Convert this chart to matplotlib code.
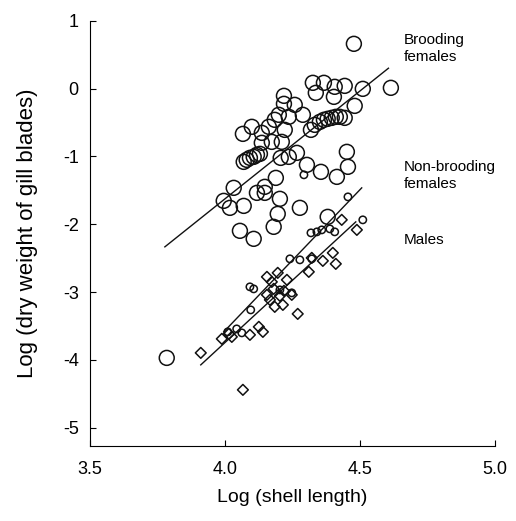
import matplotlib
matplotlib.use("Agg")
import matplotlib.pyplot as plt
import numpy as np

plt.rcParams['font.family'] = ['Liberation Sans', 'DejaVu Sans']
plt.rcParams['axes.unicode_minus'] = False

# brooding females (large circles)
brood_x = [4.478, 4.615, 4.326, 4.367, 4.337, 4.407, 4.444, 4.404, 4.511, 4.481,
           4.219, 4.219, 4.259, 4.289, 4.200, 4.237, 4.185, 4.222, 4.100, 4.067,
           4.137, 4.163, 4.174, 4.211, 4.137, 4.070, 4.081, 4.093, 4.107, 4.119,
           4.130, 4.319, 4.333, 4.352, 4.367, 4.381, 4.396, 4.411, 4.426, 4.444,
           4.452, 4.456, 4.415, 4.356, 4.304, 4.207, 4.237, 4.267, 4.033, 3.996,
           4.019, 4.070, 4.119, 4.148, 4.148, 4.189, 4.204, 4.196, 4.181, 4.278,
           4.056, 4.107, 4.381, 3.785]
brood_y = [0.661, 0.012, 0.086, 0.086, -0.062, 0.027, 0.041, -0.121, -0.003, -0.254,
           -0.106, -0.224, -0.239, -0.386, -0.386, -0.416, -0.460, -0.608, -0.563, -0.667,
           -0.652, -0.563, -0.785, -0.785, -0.799, -1.080, -1.050, -1.021, -1.006, -0.976,
           -0.962, -0.608, -0.534, -0.490, -0.460, -0.445, -0.431, -0.416, -0.416, -0.431,
           -0.932, -1.153, -1.301, -1.227, -1.124, -1.021, -1.006, -0.947, -1.463, -1.655,
           -1.758, -1.729, -1.537, -1.448, -1.537, -1.316, -1.625, -1.847, -2.038, -1.758,
           -2.097, -2.215, -1.891, -3.971]

# non-brooding females (small circles)
nonbrood_x = [4.456, 4.511, 4.293, 4.319, 4.341, 4.359, 4.389, 4.407, 4.241, 4.278,
              4.322, 4.093, 4.107, 4.096, 4.063, 4.044, 4.011, 4.248, 4.204]
nonbrood_y = [-1.596, -1.935, -1.271, -2.127, -2.112, -2.083, -2.068, -2.112, -2.510, -2.525,
              -2.510, -2.923, -2.953, -3.263, -3.602, -3.543, -3.587, -3.012, -2.968]

# males (diamonds)
male_x = [4.433, 4.489, 4.400, 4.411, 4.363, 4.311, 4.322, 4.230, 4.196, 4.156,
          4.174, 4.181, 4.156, 4.219, 4.248, 4.185, 4.215, 4.270, 4.126, 4.141,
          4.093, 4.015, 3.989, 4.026, 3.911, 4.067, 4.167, 4.204]
male_y = [-1.935, -2.083, -2.422, -2.584, -2.540, -2.702, -2.496, -2.820, -2.717, -2.776,
          -2.850, -2.953, -3.041, -2.982, -3.041, -3.218, -3.189, -3.322, -3.513, -3.587,
          -3.631, -3.617, -3.690, -3.661, -3.897, -4.442, -3.115, -3.056]

# regression lines: (x start, x end, slope, intercept)
fit_brood = (3.778, 4.606, 3.182, -14.355)
fit_nonbrood = (3.996, 4.507, 4.157, -20.199)
fit_male = (3.911, 4.485, 3.674, -18.443)

fig = plt.figure(figsize=(5.16, 5.21), dpi=100)
ax = fig.add_axes([0.174, 0.144, 0.785, 0.816])

ec = '#111111'
ax.scatter(brood_x, brood_y, s=115, facecolors='none', edgecolors=ec, linewidths=1.1, zorder=3)
ax.scatter(nonbrood_x, nonbrood_y, s=28, facecolors='none', edgecolors=ec, linewidths=1.1, zorder=3)
ax.scatter(male_x, male_y, s=30, marker='D', facecolors='none', edgecolors=ec, linewidths=1.1, zorder=3)

for x0, x1, b, a in (fit_brood, fit_nonbrood, fit_male):
    xs = np.array([x0, x1])
    ax.plot(xs, a + b * xs, color=ec, lw=1.0, zorder=2)

ax.text(4.663, 0.82, 'Brooding\nfemales', fontsize=11, va='top', ha='left', linespacing=1.3)
ax.text(4.663, -1.05, 'Non-brooding\nfemales', fontsize=11, va='top', ha='left', linespacing=1.3)
ax.text(4.663, -2.13, 'Males', fontsize=11, va='top', ha='left')

ax.set_xlim(3.5, 5.0)
ax.set_ylim(-5.27, 1.0)
ax.set_xticks([3.5, 4.0, 4.5, 5.0])
ax.set_xticklabels(['3.5', '4.0', '4.5', '5.0'])
ax.set_yticks([1, 0, -1, -2, -3, -4, -5])
ax.spines['top'].set_visible(False)
ax.spines['right'].set_visible(False)
ax.tick_params(direction='in', length=4, width=0.8, labelsize=13)
ax.tick_params(axis='x', pad=11)
ax.tick_params(axis='y', pad=8)
ax.set_xlabel('Log (shell length)', fontsize=14, labelpad=8)
ax.set_ylabel('Log (dry weight of gill blades)', fontsize=16, labelpad=18)

fig.savefig('out.png', dpi=100)
